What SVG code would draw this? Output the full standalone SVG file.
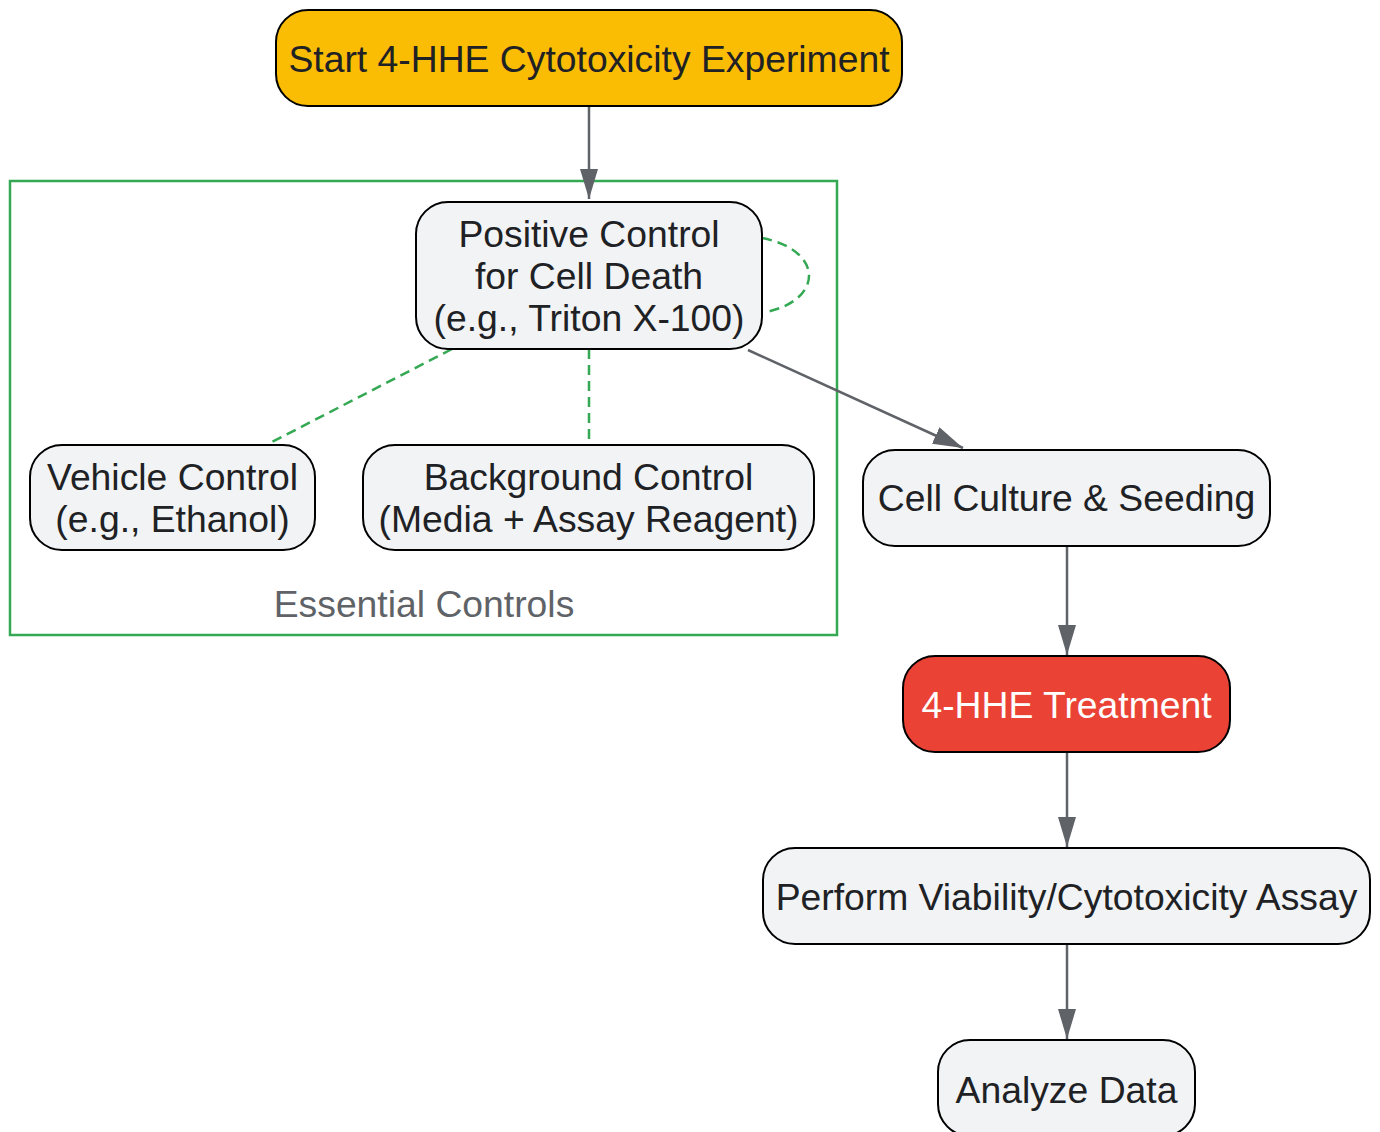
<svg xmlns="http://www.w3.org/2000/svg" width="1380" height="1132" viewBox="0 0 1380 1132">
<style>
.node rect{fill:#F1F3F4;stroke:#000;stroke-width:2}
text{font-family:"Liberation Sans",Arial,sans-serif;font-size:37.3px;fill:#202124;text-anchor:middle}
.edge{stroke:#5F6368;stroke-width:2.5;fill:none}
.dash{stroke:#34A853;stroke-width:2.5;fill:none;stroke-dasharray:10 6}
</style>
<defs>
<marker id="ah" markerUnits="userSpaceOnUse" markerWidth="30" markerHeight="18" refX="30" refY="9" orient="auto">
<path d="M0,0 L30,9 L0,18 z" fill="#5F6368"/>
</marker>
</defs>
<g id="cluster">
<rect x="10" y="181" width="827" height="454" fill="none" stroke="#34A853" stroke-width="2.5"/>
<text x="424" y="617" style="fill:#5F6368">Essential Controls</text>
</g>
<g id="connectors">
<path class="edge" d="M589 106 L589 199" marker-end="url(#ah)"/>
<path class="edge" d="M748 350 L963 448" marker-end="url(#ah)"/>
<path class="edge" d="M1067 546 L1067 655" marker-end="url(#ah)"/>
<path class="edge" d="M1067 752 L1067 847" marker-end="url(#ah)"/>
<path class="edge" d="M1067 944 L1067 1039" marker-end="url(#ah)"/>
<path class="dash" d="M762 238 C824 250 824 300 766 312"/>
<path class="dash" d="M452 349 L272 442"/>
<path class="dash" d="M589 349 L589 442"/>
</g>
<g id="start" class="node">
<rect x="276" y="10" width="626" height="96" rx="32" style="fill:#FBBC04"/>
<text x="589" y="72">Start 4-HHE Cytotoxicity Experiment</text>
</g>
<g id="positive" class="node">
<rect x="416" y="202" width="346" height="147" rx="32"/>
<text x="589" y="247">Positive Control</text>
<text x="589" y="289">for Cell Death</text>
<text x="589" y="331">(e.g., Triton X-100)</text>
</g>
<g id="vehicle" class="node">
<rect x="30" y="445" width="285" height="105" rx="32"/>
<text x="172.5" y="490">Vehicle Control</text>
<text x="172.5" y="532">(e.g., Ethanol)</text>
</g>
<g id="background" class="node">
<rect x="363" y="445" width="451" height="105" rx="32"/>
<text x="588.5" y="490">Background Control</text>
<text x="588.5" y="532">(Media + Assay Reagent)</text>
</g>
<g id="culture" class="node">
<rect x="863" y="450" width="407" height="96" rx="32"/>
<text x="1066.5" y="511">Cell Culture &amp; Seeding</text>
</g>
<g id="treatment" class="node">
<rect x="903" y="656" width="327" height="96" rx="32" style="fill:#EA4335"/>
<text x="1066.5" y="718" style="fill:#FFFFFF">4-HHE Treatment</text>
</g>
<g id="assay" class="node">
<rect x="763" y="848" width="607" height="96" rx="32"/>
<text x="1066.5" y="910">Perform Viability/Cytotoxicity Assay</text>
</g>
<g id="analyze" class="node">
<rect x="938" y="1040" width="257" height="96" rx="32"/>
<text x="1066.5" y="1103">Analyze Data</text>
</g>
</svg>
